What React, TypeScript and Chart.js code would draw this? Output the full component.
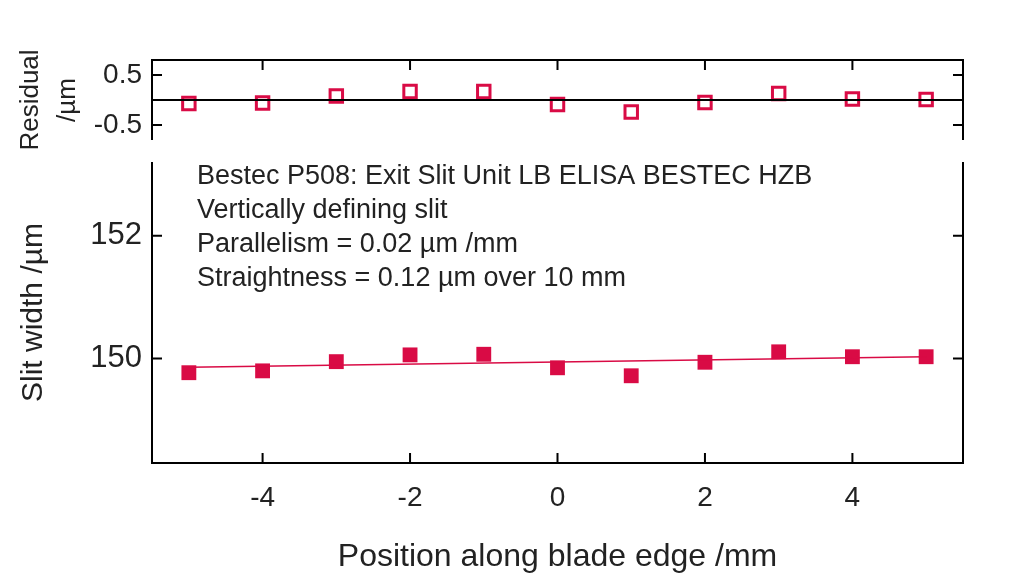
import React, { useEffect, useRef } from "react";
import { Chart, registerables } from "chart.js";

Chart.register(...registerables);

// ---- data ----
const positions = [-5, -4, -3, -2, -1, 0, 1, 2, 3, 4, 5];
const slitWidths = [149.77, 149.8, 149.95, 150.06, 150.07, 149.85, 149.72, 149.94, 150.11, 150.03, 150.03];
const residuals = [-0.07, -0.06, 0.08, 0.17, 0.17, -0.09, -0.24, -0.05, 0.13, 0.02, 0.01];
const fitX = [-5, 5];
const fitY = [149.86, 150.03];
const xTicks = [-4, -2, 0, 2, 4];
const mainYTicks = [150, 152];
const resYTicks = [-0.5, 0.5];
const annotationLines = [
  "Bestec P508: Exit Slit Unit LB ELISA BESTEC HZB",
  "Vertically defining slit",
  "Parallelism = 0.02 µm /mm",
  "Straightness = 0.12 µm over 10 mm",
];

const RED = "#d90b45";
const INK = "#222222";
const FONT = "'Liberation Sans'";
const W = 1024;
const H = 576;
const LEFT = 152;
const RIGHT = 963;

function framePlugin(kind: "top" | "bottom") {
  return {
    id: "frame-" + kind,
    afterDatasetsDraw(chart: any) {
      const { ctx, chartArea, scales } = chart;
      const { left, right, top, bottom } = chartArea;
      ctx.save();
      ctx.strokeStyle = "#000";
      ctx.lineWidth = 2;
      ctx.lineCap = "butt";
      ctx.beginPath();
      ctx.moveTo(left, top);
      ctx.lineTo(left, bottom);
      ctx.moveTo(right, top);
      ctx.lineTo(right, bottom);
      if (kind === "top") {
        ctx.moveTo(left - 1, top);
        ctx.lineTo(right + 1, top);
      } else {
        ctx.moveTo(left - 1, bottom);
        ctx.lineTo(right + 1, bottom);
      }
      const tl = 10;
      const ys = kind === "top" ? resYTicks : mainYTicks;
      ys.forEach((v) => {
        const py = scales.y.getPixelForValue(v);
        ctx.moveTo(left, py);
        ctx.lineTo(left + tl, py);
        ctx.moveTo(right, py);
        ctx.lineTo(right - tl, py);
      });
      xTicks.forEach((v) => {
        const px = scales.x.getPixelForValue(v);
        if (kind === "top") {
          ctx.moveTo(px, top);
          ctx.lineTo(px, top + tl);
        } else {
          ctx.moveTo(px, bottom);
          ctx.lineTo(px, bottom - tl);
        }
      });
      ctx.stroke();
      if (kind === "bottom") {
        ctx.fillStyle = INK;
        ctx.font = `27px ${FONT}`;
        ctx.textAlign = "left";
        ctx.textBaseline = "middle";
        annotationLines.forEach((t, i) => {
          ctx.fillText(t, 197, 177 + i * 34);
        });
      }
      ctx.restore();
    },
  };
}

function setTicks(list: number[]) {
  return (scale: any) => {
    scale.ticks = list.map((v) => ({ value: v }));
  };
}

export default function App() {
  const topRef = useRef<HTMLCanvasElement>(null);
  const botRef = useRef<HTMLCanvasElement>(null);

  useEffect(() => {
    const resChart = new Chart(topRef.current as HTMLCanvasElement, {
      type: "scatter",
      data: {
        datasets: [
          {
            type: "line",
            data: [
              { x: -5.5, y: 0 },
              { x: 5.5, y: 0 },
            ],
            borderColor: "#000",
            borderWidth: 2,
            pointRadius: 0,
          } as any,
          {
            data: positions.map((x, i) => ({ x, y: residuals[i] })),
            pointStyle: "rect",
            pointRadius: 8.8,
            backgroundColor: "#fff",
            borderColor: RED,
            borderWidth: 3,
          },
        ],
      },
      options: {
        animation: false,
        responsive: false,
        events: [],
        layout: { padding: { left: 0, top: 60, right: W - RIGHT, bottom: H - 140 } },
        plugins: { legend: { display: false }, tooltip: { enabled: false } },
        scales: {
          x: { type: "linear", min: -5.5, max: 5.5, display: false },
          y: {
            type: "linear",
            min: -0.8,
            max: 0.8,
            afterBuildTicks: setTicks(resYTicks),
            afterFit: (s: any) => {
              s.width = LEFT;
            },
            grid: { display: false, drawTicks: false },
            border: { display: false },
            ticks: {
              padding: 10,
              color: INK,
              font: { family: FONT, size: 28 },
              callback: (v: any) => String(v),
            },
            title: {
              display: true,
              text: ["Residual", "/µm"],
              color: INK,
              font: { family: FONT, size: 26, lineHeight: 1.4 },
              padding: { top: 13, bottom: 0 },
            },
          },
        },
      },
      plugins: [framePlugin("top")],
    });

    const mainChart = new Chart(botRef.current as HTMLCanvasElement, {
      type: "scatter",
      data: {
        datasets: [
          {
            type: "line",
            data: fitX.map((x, i) => ({ x, y: fitY[i] })),
            borderColor: RED,
            borderWidth: 1.5,
            pointRadius: 0,
          } as any,
          {
            data: positions.map((x, i) => ({ x, y: slitWidths[i] })),
            pointStyle: "rect",
            pointRadius: 10.5,
            backgroundColor: RED,
            borderColor: RED,
            borderWidth: 0,
          },
        ],
      },
      options: {
        animation: false,
        responsive: false,
        events: [],
        layout: { padding: { left: 0, top: 162, right: W - RIGHT, bottom: 0 } },
        plugins: { legend: { display: false }, tooltip: { enabled: false } },
        scales: {
          x: {
            type: "linear",
            min: -5.5,
            max: 5.5,
            afterBuildTicks: setTicks(xTicks),
            afterFit: (s: any) => {
              s.height = H - 463;
            },
            grid: { display: false, drawTicks: false },
            border: { display: false },
            ticks: {
              padding: 18,
              color: INK,
              font: { family: FONT, size: 28 },
              callback: (v: any) => String(v),
            },
            title: {
              display: true,
              text: "Position along blade edge /mm",
              color: INK,
              font: { family: FONT, size: 32 },
              padding: { top: 0, bottom: 0 },
            },
          },
          y: {
            type: "linear",
            min: 148.3,
            max: 153.2,
            afterBuildTicks: setTicks(mainYTicks),
            afterFit: (s: any) => {
              s.width = LEFT;
            },
            grid: { display: false, drawTicks: false },
            border: { display: false },
            ticks: {
              padding: 10,
              color: INK,
              font: { family: FONT, size: 31 },
              callback: (v: any) => String(v),
            },
            title: {
              display: true,
              text: "Slit width /µm",
              color: INK,
              font: { family: FONT, size: 30 },
              padding: { top: 16, bottom: 0 },
            },
          },
        },
      },
      plugins: [framePlugin("bottom")],
    });

    return () => {
      resChart.destroy();
      mainChart.destroy();
    };
  }, []);

  const cs: React.CSSProperties = { position: "absolute", left: 0, top: 0 };
  return (
    <div style={{ position: "fixed", left: 0, top: 0, width: W, height: H, background: "#fff" }}>
      <canvas ref={topRef} width={W} height={H} style={cs} />
      <canvas ref={botRef} width={W} height={H} style={cs} />
    </div>
  );
}
